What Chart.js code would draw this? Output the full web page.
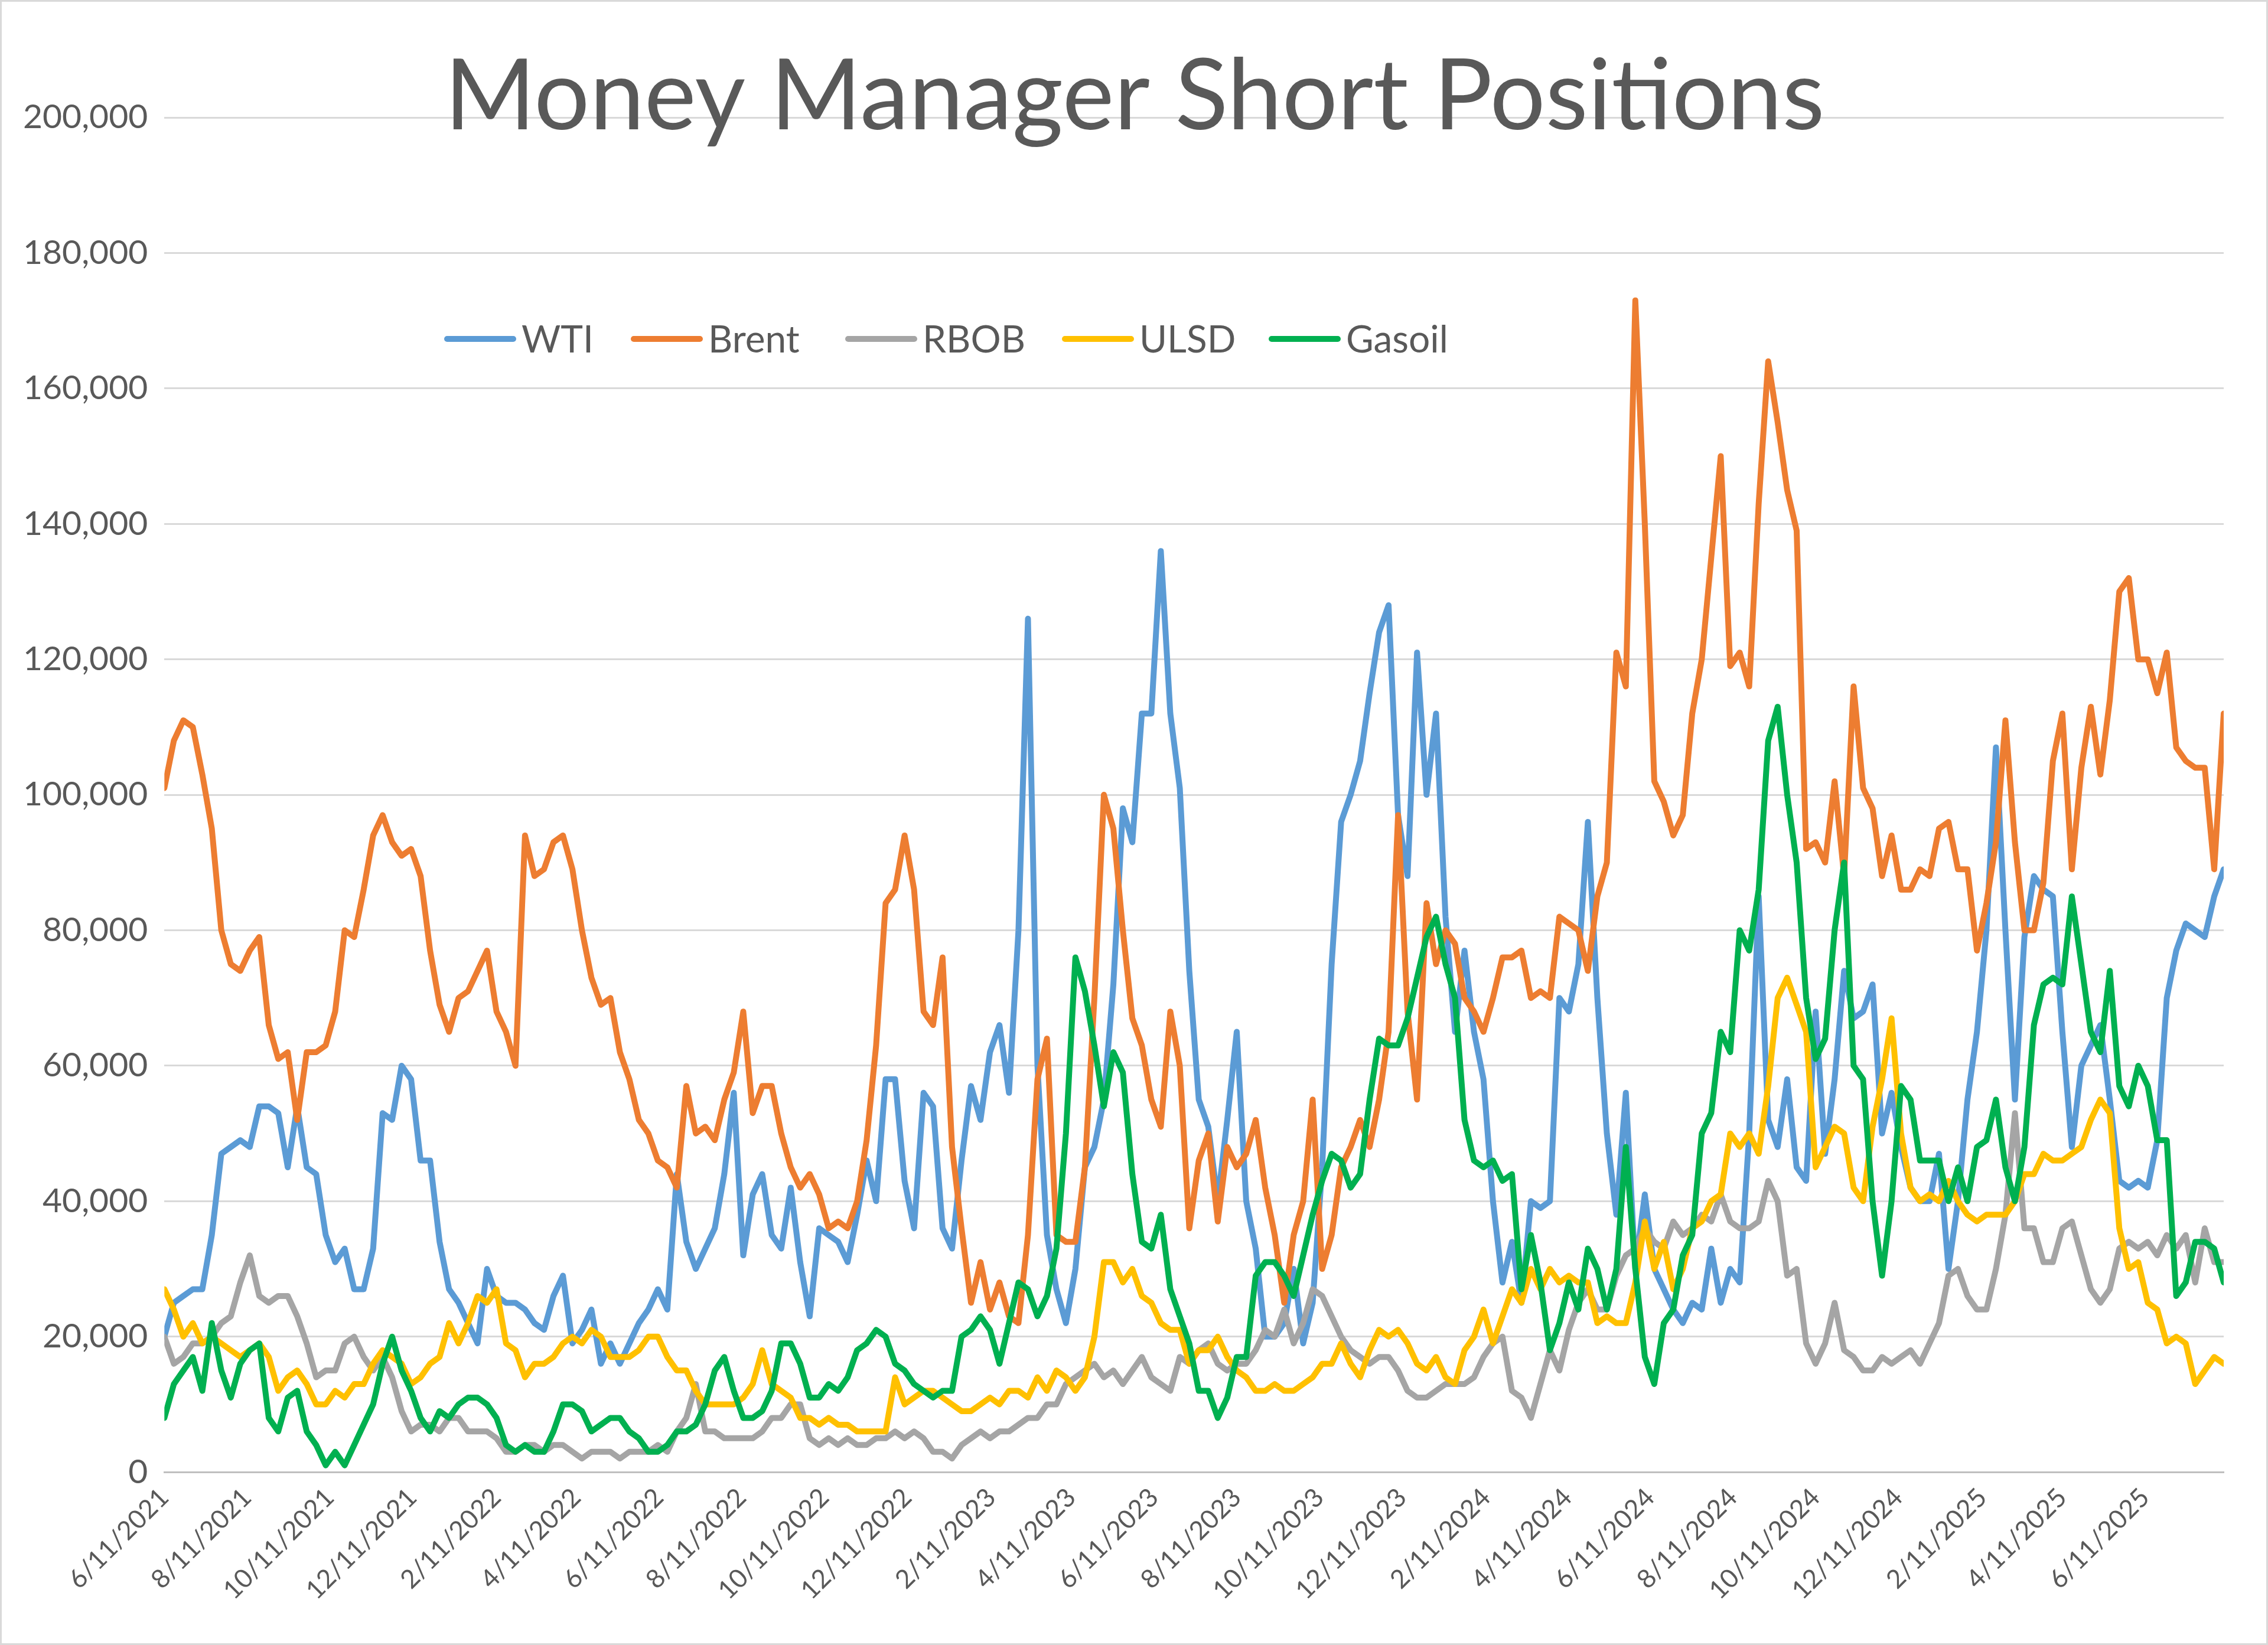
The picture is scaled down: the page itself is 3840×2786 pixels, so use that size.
<!DOCTYPE html>
<html><head><meta charset="utf-8">
<script src="https://cdn.jsdelivr.net/npm/chart.js@4"></script>
<style>html,body{margin:0;padding:0;background:#fff}#wrap{width:3840px;height:2786px;position:relative;box-sizing:border-box;border:3px solid #d9d9d9}</style>
</head><body><div id="wrap"><canvas id="c"></canvas></div>
<script>
const startDate = "2021-06-11";
const tickLabels = ["6/11/2021","8/11/2021","10/11/2021","12/11/2021","2/11/2022","4/11/2022","6/11/2022","8/11/2022","10/11/2022","12/11/2022","2/11/2023","4/11/2023","6/11/2023","8/11/2023","10/11/2023","12/11/2023","2/11/2024","4/11/2024","6/11/2024","8/11/2024","10/11/2024","12/11/2024","2/11/2025","4/11/2025","6/11/2025"];
const seriesNames = ["WTI","Brent","RBOB","ULSD","Gasoil"];
const seriesColors = ["#5B9BD5","#ED7D31","#A5A5A5","#FFC000","#00B050"];
// values in thousands of contracts, weekly from 6/11/2021
const wti = [20,25,26,27,27,35,47,48,49,48,54,54,53,45,54,45,44,35,31,33,27,27,33,53,52,60,58,46,46,34,27,25,22,19,30,26,25,25,24,22,21,26,29,19,21,24,16,19,16,19,22,24,27,24,44,34,30,33,36,44,56,32,41,44,35,33,42,31,23,36,35,34,31,38,46,40,58,58,43,36,56,54,36,33,46,57,52,62,66,56,80,126,60,35,27,22,30,45,48,55,72,98,93,112,112,136,112,101,74,55,51,40,52,65,40,33,20,20,22,30,19,25,45,75,96,100,105,115,124,128,97,88,121,100,112,82,65,77,65,58,40,28,34,25,40,39,40,70,68,75,96,70,50,38,56,30,41,30,27,24,22,25,24,33,25,30,28,50,85,52,48,58,45,43,68,47,58,74,67,68,72,50,56,48,42,40,40,47,30,40,55,65,80,107,80,55,79,88,86,85,65,48,60,63,66,55,43,42,43,42,49,70,77,81,80,79,85,89];
const brent = [101,108,111,110,103,95,80,75,74,77,79,66,61,62,52,62,62,63,68,80,79,86,94,97,93,91,92,88,77,69,65,70,71,74,77,68,65,60,94,88,89,93,94,89,80,73,69,70,62,58,52,50,46,45,42,57,50,51,49,55,59,68,53,57,57,50,45,42,44,41,36,37,36,40,49,63,84,86,94,86,68,66,76,48,36,25,31,24,28,23,22,35,58,64,35,34,34,45,70,100,95,80,67,63,55,51,68,60,36,46,50,37,48,45,47,52,42,35,25,35,40,55,30,35,45,48,52,48,55,65,97,68,55,84,75,80,78,70,68,65,70,76,76,77,70,71,70,82,81,80,74,85,90,121,116,173,140,102,99,94,97,112,120,135,150,119,121,116,143,164,155,145,139,92,93,90,102,88,116,101,98,88,94,86,86,89,88,95,96,89,89,77,84,93,111,93,80,80,87,105,112,89,104,113,103,114,130,132,120,120,115,121,107,105,104,104,89,112];
const rbob = [20,16,17,19,19,20,22,23,28,32,26,25,26,26,23,19,14,15,15,19,20,17,15,17,14,9,6,7,7,6,8,8,6,6,6,5,3,3,4,4,3,4,4,3,2,3,3,3,2,3,3,3,4,3,6,8,13,6,6,5,5,5,5,6,8,8,10,10,5,4,5,4,5,4,4,5,5,6,5,6,5,3,3,2,4,5,6,5,6,6,7,8,8,10,10,13,14,15,16,14,15,13,15,17,14,13,12,17,16,18,19,16,15,16,16,18,21,20,24,19,22,27,26,23,20,18,17,16,17,17,15,12,11,11,12,13,13,13,14,17,19,20,12,11,8,13,18,15,21,25,27,24,24,29,32,33,36,34,33,37,35,36,38,37,41,37,36,36,37,43,40,29,30,19,16,19,25,18,17,15,15,17,16,17,18,16,19,22,29,30,26,24,24,30,38,53,36,36,31,31,36,37,32,27,25,27,33,34,33,34,32,35,33,35,28,36,31,31];
const ulsd = [27,24,20,22,19,20,19,18,17,18,19,17,12,14,15,13,10,10,12,11,13,13,16,18,17,16,13,14,16,17,22,19,22,26,25,27,19,18,14,16,16,17,19,20,19,21,20,17,17,17,18,20,20,17,15,15,12,10,10,10,10,11,13,18,13,12,11,8,8,7,8,7,7,6,6,6,6,14,10,11,12,12,11,10,9,9,10,11,10,12,12,11,14,12,15,14,12,14,20,31,31,28,30,26,25,22,21,21,16,18,18,20,17,15,14,12,12,13,12,12,13,14,16,16,19,16,14,18,21,20,21,19,16,15,17,14,13,18,20,24,19,23,27,25,30,27,30,28,29,28,28,22,23,22,22,28,37,30,34,27,30,36,37,40,41,50,48,50,47,57,70,73,69,65,45,48,51,50,42,40,51,58,67,50,42,40,41,40,43,40,38,37,38,38,38,40,44,44,47,46,46,47,48,52,55,53,36,30,31,25,24,19,20,19,13,15,17,16];
const gasoil = [8,13,15,17,12,22,15,11,16,18,19,8,6,11,12,6,4,1,3,1,4,7,10,16,20,15,12,8,6,9,8,10,11,11,10,8,4,3,4,3,3,6,10,10,9,6,7,8,8,6,5,3,3,4,6,6,7,10,15,17,12,8,8,9,12,19,19,16,11,11,13,12,14,18,19,21,20,16,15,13,12,11,12,12,20,21,23,21,16,22,28,27,23,26,33,50,76,71,63,54,62,59,44,34,33,38,27,23,19,12,12,8,11,17,17,29,31,31,29,26,32,38,43,47,46,42,44,55,64,63,63,67,73,79,82,75,70,52,46,45,46,43,44,27,35,28,18,22,28,24,33,30,24,30,48,30,17,13,22,24,32,35,50,53,65,62,80,77,86,108,113,100,90,70,61,64,80,90,60,58,40,29,40,57,55,46,46,46,40,45,40,48,49,55,45,40,48,66,72,73,72,85,75,65,62,74,57,54,60,57,49,49,26,28,34,34,33,28];
const yTicks = [0,20,40,60,80,100,120,140,160,180,200];

const allSeries = [wti, brent, rbob, ulsd, gasoil];
const t0 = Date.parse(startDate+"T00:00:00Z");
function weekPos(lbl){const [m,d,y]=lbl.split("/").map(Number);return (Date.UTC(y,m-1,d)-t0)/(7*86400000);}
const tickPos = tickLabels.map(weekPos);
const datasets = allSeries.map((arr,k)=>({
  label: seriesNames[k], data: arr.map((v,i)=>({x:i,y:v})),
  borderColor: seriesColors[k], backgroundColor: seriesColors[k],
  borderWidth: 10, pointRadius: 0, tension: 0, order: 4-k,
  borderJoinStyle:'round', borderCapStyle:'round'
}));
const FONT = "Lato, 'Open Sans', sans-serif";
const overlay = {
  id:'overlay',
  afterDraw(chart){
    const ctx = chart.ctx;
    ctx.save();
    ctx.fillStyle = '#595959';
    ctx.font = "166px "+FONT;
    ctx.textAlign='center'; ctx.textBaseline='middle';
    ctx.fillText("Money Manager Short Positions", 1918, 162);
    const lx=[754,1070,1433,1800,2150]; const ly=571;
    ctx.font = "64px "+FONT; ctx.textAlign='left';
    seriesNames.forEach((n,k)=>{
      ctx.strokeStyle=seriesColors[k]; ctx.lineWidth=10; ctx.lineCap='round';
      ctx.beginPath(); ctx.moveTo(lx[k],ly); ctx.lineTo(lx[k]+112,ly); ctx.stroke();
      ctx.fillStyle='#595959'; ctx.fillText(n, lx[k]+126, ly+2);
    });
    ctx.restore();
  }
};
new Chart(document.getElementById('c'), {
  type:'line',
  data:{datasets},
  options:{
    responsive:true, maintainAspectRatio:false, animation:false, devicePixelRatio:1,
    layout:{padding:{top:196,left:8,right:72,bottom:60}},
    plugins:{legend:{display:false}, tooltip:{enabled:false}, title:{display:false}},
    scales:{
      x:{type:'linear', min:0, max:allSeries[0].length-1,
        afterBuildTicks(ax){ax.ticks = tickPos.map(v=>({value:v}));},
        ticks:{autoSkip:false, maxRotation:45, minRotation:45, color:'#595959', font:{size:44,family:FONT},
          callback:(v,i)=>tickLabels[i]},
        grid:{display:false, drawTicks:true, tickLength:14, color:'#bfbfbf'},
        border:{display:true,color:'#bfbfbf',width:3}},
      y:{min:0,max:200, afterBuildTicks(ax){ax.ticks = yTicks.map(v=>({value:v}));},
        ticks:{color:'#595959', font:{size:57,family:FONT}, padding:28,
          callback:v=>(v*1000).toLocaleString('en-US')},
        grid:{color:'#d9d9d9', lineWidth:3, drawTicks:false},
        border:{display:false}}
    }
  },
  plugins:[overlay]
});
</script></body></html>
